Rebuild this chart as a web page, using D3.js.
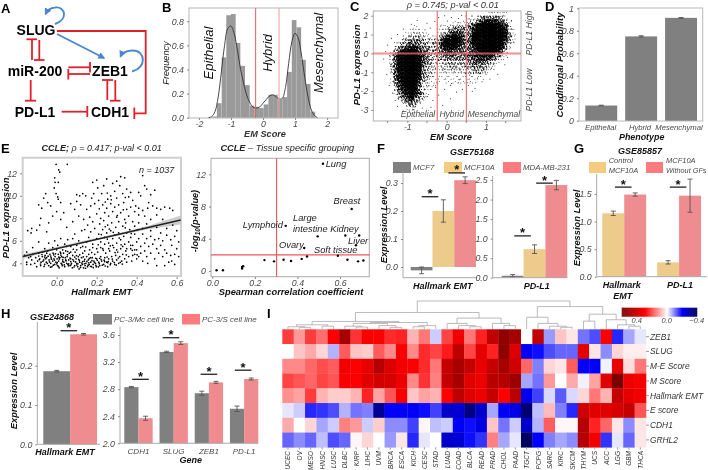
<!DOCTYPE html>
<html><head><meta charset="utf-8">
<script src="https://cdn.jsdelivr.net/npm/d3@7"></script>
<style>
html,body{margin:0;padding:0;background:#fff}
svg{display:block;filter:blur(0.35px)}
text{font-family:"Liberation Sans",Arial,sans-serif}
</style></head><body>
<script>
// ---------- Panel B ----------
const emBinStart=[-1.58,-1.44,-1.29,-1.146,-1.0,-.854,-.708,-.562,-.416,-.27,-.124,.022,.168,.314,.46,.606,.752,.898,1.044,1.19,1.336,1.482];
const emBinFreq=[.01,.12,.5,.85,.86,.62,.43,.27,.1,.09,.08,.11,.19,.19,.15,.17,.38,.81,.75,.48,.28,.05];
const emBinWidth=.146;
const emDensity=[[-1.7,0],[-1.6,.01],[-1.5,.05],[-1.4,.17],[-1.3,.38],[-1.2,.6],[-1.1,.74],[-1,.76],[-.9,.7],[-.8,.56],[-.7,.4],[-.6,.28],[-.5,.18],[-.4,.12],[-.3,.085],[-.2,.08],[-.1,.09],[0,.12],[.1,.15],[.2,.18],[.3,.19],[.4,.175],[.5,.155],[.6,.16],[.7,.25],[.8,.45],[.9,.63],[1,.7],[1.1,.66],[1.2,.52],[1.3,.34],[1.4,.18],[1.5,.07],[1.6,.02],[1.7,0]];
const emThresholds=[-.23,.5];
// ---------- Panel C: density read from the cloud, rows top (y=2.1) to bottom, cols x=-1.7 step .1 ----------
const cDensityRows=[
"000000000000000000000000000011111000",
"000000000000000000000011124444431000",
"000000000000000000011112246777653100",
"000000000100000011122224589999876200",
"000000001110000112344434789999887210",
"000000011221100123566534799999997310",
"000000122332111246787635899999997410",
"000000234443222368998645899999996310",
"000012345543323478987645799999995210",
"000024567764433467876545689999874100",
"000136899965433456655545678888752000",
"000258999976433345554455677776421000",
"000258999985432334444444566654210000",
"000258999985432223333334555432100000",
"000258999985322122332233444321000000",
"000258999984321122222222333210000000",
"000157999984321111111122222100000000",
"000157999974321111111111111000000000",
"000147999963211101011111100000000000",
"000036899952211000100000000000000000",
"000025789942110000000000000000000000",
"000014679763100000000000000000000000",
"000003568642100000000000000000000000",
"000001356431000000000000000000000000",
"000000134310000000000000000000000000",
"000000012200000000000000000000000000",
"000000001000000000000000000000000000"];
const cOutliers=[[-1.43,-.6],[-1.52,-1.1],[-1.46,-1.7],[-1.38,-2.1],[-1.31,-2.5],[-1.25,-2.8],[-1.1,-3.05],[-.95,-3.0],[-.8,-2.7],[-.62,-2.4],[-.5,-2.3],[-.35,-2.5],[-.2,-2.2],[-.1,-2.75],[.1,-2.4],[.25,-2.05],[.4,-1.9],[.55,-1.7],[.72,-1.85],[.9,-1.5],[1.1,-1.35],[1.3,-1.1],[1.48,-.6],[1.55,-.2],[1.62,.3],[1.7,.6],[1.6,1.1],[1.55,1.5],[1.65,1.75],[1.45,2.0],[-.2,1.9],[-.05,2.0],[-.3,1.7],[-.5,1.6],[-.75,1.75],[-.9,1.55],[-1.1,1.3],[-1.25,1.0],[-1.4,.8],[-1.5,.45],[-1.55,.1],[-1.6,-.3],[-.55,1.25],[-.42,1.35],[-.15,1.45],[.02,1.72],[.12,1.9],[.3,1.85],[.38,2.02],[.58,-1.15],[.33,-1.4],[.12,-1.6],[-.05,-1.9],[-.28,-1.8],[.78,-1.3],[1.0,-1.1],[1.2,-.85],[.65,-2.0],[-.4,-2.85],[-.62,-2.9]];
const cThresholds=[-.24,.5];
const stippleCounts=[0,2,3,5,7,9,11,13,16,16];
// ---------- Panel D ----------
const phenotypes=["Epithelial","Hybrid","Mesenchymal"];
const condProb=[.135,.75,.915];
const condErr=[.003,.006,.003];
// ---------- Panel E ----------
const ccleScatter=[
[-.003,12.8],[.053,12.8],[.01,12.3],[.015,12.1],[-.01,11.6],[-.008,11.2],[.008,11.2],[-.012,10.7],[-.003,10.2],[.005,9.9],[.008,9.7],
[-.145,6.9],[-.125,7.1],[-.128,6.7],[-.1,6.95],[-.05,6.8],[-.085,7.4],[-.075,8.9],[-.09,9.2],[-.065,9.8],[-.055,10.2],[-.045,9.4],[-.08,8.0],[-.03,9.1],[-.02,8.2],[.0,8.6],[.02,7.9],[-.04,7.6],[.035,8.5],[.02,9.4],[.07,9.3],[.1,9.5],[.09,8.8],[.05,7.2],[.08,7.7],[.11,8.2],[.135,7.9],[.12,9.2],[.1,10.1],[.15,8.8],[.17,9.1],[.165,8.1],[.155,7.4],[.125,6.9],[.09,6.6],
[.115,10.0],[.13,10.2],[.145,10.0],[.175,9.8],[.185,10.2],[.18,11.2],[.2,11.4],[.25,11.5],[.235,10.9],[.205,10.7],[.225,10.2],[.27,10.0],[.255,9.7],[.29,10.4],[.28,11.1],[.3,11.3],[.32,11.7],[.34,11.6],[.315,10.9],[.35,10.6],[.33,10.2],[.3,9.8],[.36,9.9],[.37,10.3],[.38,9.6],[.41,10.3],[.43,11.8],[.44,10.9],[.45,10.6],[.42,10.0],[.47,10.1],[.49,10.5],[.46,9.4],[.395,9.1],
[.19,9.3],[.21,9.6],[.23,9.2],[.25,8.9],[.27,9.3],[.29,9.0],[.31,9.2],[.335,9.4],[.35,8.8],[.37,9.0],[.39,8.6],[.41,8.9],[.43,8.7],[.455,8.9],[.48,9.1],[.5,8.9],[.52,8.8],[.54,9.0],[.565,8.9],[.58,8.7],[.5,8.3],[.53,7.9],[.47,7.9],[.44,8.2],[.41,8.3],[.38,7.7],[.36,8.2],[.34,7.9],[.32,8.5],[.3,8.1],[.28,8.6],[.26,8.2],[.24,8.5],[.22,8.0],[.2,8.4],[.18,7.7],[.215,7.5],[.235,7.8],[.255,7.4],[.275,7.6],[.295,7.2],[.31,7.7],[.33,7.3],[.345,7.6],[.365,7.0],[.39,7.3],[.41,7.6],[.43,7.1],[.45,7.5],[.47,6.9],[.5,7.2],[.52,6.7],[.55,7.1],[.58,7.4],[.6,6.9],
[.14,7.0],[.17,6.8],[.19,7.1],[.21,6.6],[.23,7.0],[.25,6.7],[.27,6.9],[.29,6.5],[.31,6.7],[.335,6.4],[.35,6.7],[.37,6.3],[.39,6.6],[.41,6.2],[.43,6.6],[.45,6.2],[.47,6.4],[.49,6.1],[.51,6.2],[.53,6.0],[.55,6.5],[.57,6.1],[.59,6.4],[.61,5.9],
[-.15,5.0],[-.12,5.4],[-.09,5.9],[-.06,5.3],[-.04,5.8],[-.02,5.4],[-.01,6.0],[.005,5.6],[.02,6.2],[.03,5.2],[.04,5.7],[.055,6.1],[.07,5.5],[.08,6.2],[.1,5.6],[.11,6.0],[.13,5.5],[.15,5.9],[.16,6.3],[.18,5.7],[.2,6.2],[.22,5.9],[.24,6.3],[.26,5.8],[.28,6.2],[.3,5.8],[.32,6.1],[.34,5.7],[.36,5.9],[.38,5.6],[.4,5.9],[.42,5.5],[.44,5.8],[.46,5.5],[.48,5.7],[.5,5.3],[.52,5.6],[.54,5.2],[.575,5.6],[.6,5.3],[.59,4.8],[.61,4.6],[.57,4.7],[.55,4.9],[.53,4.6],[.51,4.9],[.49,4.4],[.47,4.9],[.45,4.6],[.575,4.2],[.59,3.9],[.54,3.8],[.56,4.1],[.5,3.8],[.44,5.1],[.42,4.9],[.4,5.2],[.38,4.7],
[-.16,4.7],[-.15,4.1],[-.14,4.5],[-.13,3.9],[-.125,4.3],[-.12,4.8],[-.11,4.0],[-.105,4.5],[-.1,3.7],[-.095,4.2],[-.09,4.9],[-.085,4.4],[-.08,3.8],[-.078,4.1],[-.072,4.6],[-.07,5.0],[-.065,4.3],[-.06,3.9],[-.058,4.7],[-.052,4.1],[-.05,4.5],[-.045,5.1],[-.04,3.8],[-.038,4.3],[-.034,4.8],[-.03,4.0],[-.028,4.5],[-.024,3.7],[-.02,4.2],[-.018,4.9],[-.014,4.4],[-.01,3.9],[-.008,4.6],[-.004,4.1],[0,5.2],[.002,4.4],[.004,3.8],[.008,4.8],[.01,4.2],[.012,3.6],[.016,4.5],[.018,5.0],[.022,4.0],[.025,4.6],[.028,3.8],[.03,4.3],[.034,4.9],[.036,4.1],[.04,3.7],[.043,4.5],[.045,5.1],[.05,4.0],[.052,4.6],[.056,3.9],[.06,4.3],[.063,4.9],[.067,3.8],[.07,4.4],[.074,4.0],[.078,3.6],[.08,4.7],[.085,4.2],[.09,3.8],[.092,5.0],[.097,4.4],[.1,4.0],[.105,3.7],[.108,4.6],[.112,3.5],[.115,4.1],[.12,3.8],[.124,4.5],[.128,3.9],[.13,4.9],[.134,3.6],[.138,4.2],[.142,3.8],[.146,4.0],[.15,4.6],[.154,3.7],[.158,4.3],[.162,3.9],[.165,5.2],[.17,4.1],[.174,3.7],[.178,4.5],[.182,3.9],[.186,4.2],[.19,4.8],[.194,4.0],[.198,3.7],[.2,4.4],[.205,5.0],[.21,4.1],[.215,3.8],[.22,4.6],[.225,4.2],[.23,5.3],[.235,3.9],[.24,4.5],[.245,4.9],[.25,4.1],[.255,3.7],[.26,4.4],[.265,5.1],[.27,4.0],[.275,4.6],[.28,4.2],[.285,5.4],[.29,3.9],[.295,4.7],[.3,4.3],[.305,5.0],[.31,4.0],[.315,4.6],[.32,5.3],[.325,4.2],[.33,4.8],[.34,4.4],[.345,5.1],[.35,4.1],[.36,4.6],[.37,5.3],[.375,4.2],[.39,4.8],[.4,4.4],[.41,4.6],[.43,4.2],[.455,4.0],
[-.15,3.9],[-.13,4.6],[-.05,4.9],[.02,4.9],[.05,5.5],[.07,5.0],[.1,5.2],[.12,5.4],[.14,5.1],[.16,4.8],[.18,5.4],[.2,5.3],[.22,5.4],[.24,5.7],[.26,5.3],[.28,5.6],[.3,5.2],[.33,5.5],[.35,5.3],[.37,5.6],[.39,5.2],
[.11,4.35],[.14,4.35],[.17,4.5],[.07,4.15],[.03,4.15],[-.015,4.75],[-.06,4.55],[.01,4.55],[.045,4.3],[.09,4.55],[.13,4.15],[.16,4.05],[.195,4.45],[.215,4.45],[.255,4.05],[.24,4.15],[-.03,4.65],[-.09,4.65],[.06,3.95],[.1,3.85],[.0,3.95],
[-.087,4.33],[-.081,3.94],[-.074,4.78],[-.069,4.18],[-.063,3.72],[-.056,4.41],[-.047,3.99],[-.043,4.63],[-.036,4.12],[-.031,3.66],[-.026,4.37],[-.017,3.83],[-.011,4.29],[-.006,4.84],[.003,4.07],[.009,3.72],[.013,4.39],[.021,4.73],[.026,3.92],[.032,4.52],[.038,3.86],[.047,4.22],[.054,4.76],[.059,3.78],[.066,4.47],[.072,3.87],[.081,4.33],[.087,3.67],[.094,4.12],[.099,4.69],[.106,3.95],[.113,4.24],[.119,3.63],[.126,4.02],[.133,4.58],[.139,3.96],[.144,3.56],[.151,4.17],[.157,3.83],[.163,4.43],[.169,3.74],[.176,4.23],[.183,3.62],[.189,4.08],[.196,3.82],[.203,4.27],[.208,3.69],[.213,3.97],[.222,4.34],[.228,3.84],[.237,4.28],[.243,3.76],[.252,4.56],[.258,4.16],[.268,3.88],[.278,4.38],[.288,4.07],[.298,3.84],[.308,4.47],[.318,4.09],[.328,3.93],
[.055,5.05],[.083,5.25],[.115,4.75],[.145,5.45],[.175,4.95],[.208,5.65],[.233,5.15],[.268,5.55],[.292,4.95],[.322,5.65],[.348,4.75],[.378,5.15],[.402,4.75],[.223,6.55],[.253,6.15],[.283,6.75],[.313,6.25],[.343,7.15],[.373,6.65],[.403,6.95],[.263,7.05],[.243,7.25],[.303,8.25],[.333,8.75],[.273,9.65],[.243,9.45],[.213,8.85],[.253,10.25],[.343,9.85]
];
const ccleRibbon=[[-.17,4.4,4.8],[.0,5.3,5.45],[.1,5.72,5.88],[.3,6.42,6.62],[.45,7.0,7.3],[.62,7.45,8.25]];
const ccleTrend=[[-.17,4.6],[.62,7.85]];
const tissueCorr=[[.02,.1],[.05,.1],[.14,.3],[.14,.5],[.145,.6],[.245,1.35],[.29,1.2],[.335,1.4],[.37,1.25],[.42,1.5],[.445,1.8],[.495,4.3],[.52,13.3],[.59,1.9],[.625,4.4],[.635,1.4],[.655,7.7],[.685,1.2],[.69,4.4],[.71,1.3],[.675,3.2],[.432,2.85],[.345,5.6]];
// ---------- Panel F ----------
const f_cells=["MCF7","MCF10A","MDA-MB-231"];
const f_emt=[-.012,.2,.31];
const f_emtErr=[.012,.04,.012];
const f_pdl1=[.05,.73,2.37];
const f_pdl1Err=[.03,.11,.12];
// ---------- Panel G ----------
const g_groups=["Hallmark EMT","PD-L1"];
const g_conditions=["Control MCF10A","MCF10A Without GFs"];
const g_control=[1.15,.26];
const g_controlErr=[.04,.03];
const g_noGF=[1.49,1.47];
const g_noGFErr=[.03,.3];
// ---------- Panel H ----------
const h_emt=[.186,.28];
const h_emtErr=[.002,.002];
const h_genes=["CDH1","SLUG","ZEB1","PD-L1"];
const h_mc=[2.83,3.35,2.74,2.51];
const h_mcErr=[.01,.01,.03,.04];
const h_s=[2.37,3.48,2.9,2.95];
const h_sErr=[.03,.02,.015,.015];
// ---------- Panel I ----------
const tumours=["UCEC","OV","MESO","HNSC","LUSC","DLBC","KIRP","LIHC","UVM","BRCA","ESCA","KICH","CESC","STAD","LUAD","COAD","BLCA","READ","PRAD","CHOL","PAAD","TGCT","PCPG","SARC","KIRC","SKCM","THYM","UCS","ACC","LGG","GBM","THCA"];
const signatures=["ZEB1","SLUG","M-E Score","M Score","Hallmark EMT","E score","CDH1","GRHL2"];
const corrZEB1=[.23,.12,.23,.17,.3,.5,.24,.31,.31,.25,.26,.09,.16,-.04,.22,.33,.16,.26,.44,.55,.5,0,.44,-.08,.07,.03,-.11,-.14,.3,-.17,-.07,-.02];
const corrSLUG=[0,.07,.1,.05,-.06,.19,.07,.06,.19,.14,.31,.14,.25,.22,.27,.45,.22,.36,.26,.55,.38,-.21,-.19,-.14,-.12,-.12,.36,.03,-.09,.05,.02,.02];
const corrME=[.14,.14,.18,.21,.19,.33,.3,.35,.47,.38,.33,.31,.25,.16,.43,.5,.43,.35,.43,.5,.41,.18,-.1,.05,.03,.19,-.2,-.2,-.01,.35,.04,.16];
const corrM=[.22,.2,.18,.22,.2,.32,.31,.37,.4,.39,.34,.14,.24,.15,.43,.5,.37,.34,.46,.47,.52,-.07,-.11,.12,0,.1,-.01,.11,.37,.6,.34,.32];
const corrHallmark=[.13,.11,.23,.09,.06,.06,.09,.26,.11,.2,.32,.07,.11,.09,.3,.45,.37,.34,.43,.3,.46,-.22,-.15,-.03,-.13,-.03,.05,.16,.09,.43,.36,.33];
const corrE=[-.02,-.04,-.17,-.16,-.14,-.06,-.11,-.1,-.32,-.21,-.21,-.21,-.19,-.15,-.26,-.25,-.34,-.26,-.07,-.21,-.23,-.36,-.05,.08,-.1,-.17,.41,.37,.37,.39,.43,.2];
const corrCDH1=[.1,0,.05,-.07,-.04,.15,.12,-.04,.06,-.09,-.09,-.15,.01,-.05,-.04,-.21,-.19,-.23,.07,-.11,-.04,-.26,-.06,.19,.01,.01,.47,.26,.18,.03,-.09,.03];
const corrGRHL2=[-.12,-.09,-.12,-.05,-.14,-.12,.01,.05,0,-.08,.03,-.17,-.02,0,-.26,-.25,-.19,-.16,.15,-.07,-.02,-.38,-.2,-.1,-.07,-.09,.47,.33,-.16,-.02,-.12,.03];
const corrMatrix=[corrZEB1,corrSLUG,corrME,corrM,corrHallmark,corrE,corrCDH1,corrGRHL2];
const dendroA1=[.27,[.15,[.08,"UCEC",[.06,"OV","MESO"]],[.1,"HNSC","LUSC"]],[.23,[.2,[.1,"DLBC",[.07,"KIRP","LIHC"]],[.12,"UVM",[.06,"BRCA","ESCA"]]],[.12,[.08,"KICH","CESC"],"STAD"]]];
const dendroA2=[.39,[.2,"LUAD",[.12,"COAD",[.08,"BLCA","READ"]]],[.2,"PRAD",[.12,"CHOL","PAAD"]]];
const dendroB1=[.42,"TGCT",[.2,"PCPG",[.1,"SARC",[.06,"KIRC","SKCM"]]]];
const dendroB2=[.53,[.28,"THYM","UCS"],[.33,"ACC",[.15,"LGG",[.1,"GBM","THCA"]]]];
const dendroRoot=[1,[.59,dendroA1,dendroA2],[.8,dendroB1,dendroB2]];

// ---------- helpers ----------
const GRAY="#808080",RED="#ee8c8f",YEL="#eccb8b",REDL="#fb7b7e",YELL="#f4cb80",TICK="#4a4a4a",BOX="#aaaaaa",LINE_RED="#ef5a5f";
const TS=8.8, BS=9.2;
const svg=d3.select("body").append("svg").attr("width",708).attr("height",470).attr("viewBox","0 0 708 470");
function txt(x,y,s,o={}){
  const t=svg.append("text").attr("x",x).attr("y",y).text(s)
    .attr("text-anchor",o.a||"middle").attr("dominant-baseline","central")
    .attr("font-size",o.s||9).attr("fill",o.c||TICK)
    .attr("font-style",o.i===false?"normal":"italic").attr("font-weight",o.b?"bold":"normal");
  if(o.r) t.attr("transform",`rotate(${o.r} ${x} ${y})`);
  return t;
}
function boldLabel(x,y,s,o={}){return txt(x,y,s,Object.assign({b:true,c:"#111",s:BS},o));}
function panel(x,y,s){txt(x,y,s,{i:false,b:true,c:"#000",s:13,a:"start"});}
function axL(x,scale,vals,fmt,o={}){
  const g=svg.append("g").attr("transform",`translate(${x},0)`).call(d3.axisLeft(scale).tickValues(vals).tickSize(o.tick===undefined?2:o.tick).tickFormat(fmt||(d=>d)));
  g.selectAll("path").attr("stroke",o.noDomain?"none":"#aaa");
  g.selectAll("line").attr("stroke","#888");
  g.selectAll("text").attr("font-size",o.s||TS).attr("font-style","italic").attr("fill",TICK).attr("font-family","Liberation Sans");
  return g;
}
function axB(y,scale,vals,fmt,o={}){
  const g=svg.append("g").attr("transform",`translate(0,${y})`).call(d3.axisBottom(scale).tickValues(vals).tickSize(o.tick===undefined?2:o.tick).tickFormat(fmt||(d=>d)));
  g.selectAll("path").attr("stroke",o.noDomain?"none":"#aaa");
  g.selectAll("line").attr("stroke","#888");
  g.selectAll("text").attr("font-size",o.s||TS).attr("font-style","italic").attr("fill",TICK).attr("font-family","Liberation Sans").attr("dy",o.dy||"0.71em");
  return g;
}
function box(x0,x1,y0,y1,w,c){svg.append("rect").attr("x",x0).attr("y",y0).attr("width",x1-x0).attr("height",y1-y0).attr("fill","none").attr("stroke",c||BOX).attr("stroke-width",w||1);}
function bars(xs,ws,vals,errs,y,fill,base){
  vals.forEach((v,i)=>{
    const b=y(base===undefined?0:base),p=y(v);
    svg.append("rect").attr("x",xs[i]).attr("width",ws).attr("y",Math.min(b,p)).attr("height",Math.abs(b-p)).attr("fill",Array.isArray(fill)?fill[i]:fill);
    const cx=xs[i]+ws/2,e=errs[i];
    const g=svg.append("g").attr("stroke","#555").attr("stroke-width",.9);
    g.append("line").attr("x1",cx).attr("x2",cx).attr("y1",y(v-e)).attr("y2",y(v+e));
    g.append("line").attr("x1",cx-2.5).attr("x2",cx+2.5).attr("y1",y(v-e)).attr("y2",y(v-e));
    g.append("line").attr("x1",cx-2.5).attr("x2",cx+2.5).attr("y1",y(v+e)).attr("y2",y(v+e));
  });
}
function sig(cx,py){
  svg.append("line").attr("x1",cx-8.3).attr("x2",cx+8.3).attr("y1",py).attr("y2",py).attr("stroke","#222").attr("stroke-width",1.3);
  txt(cx,py-3,"*",{i:false,b:true,c:"#111",s:13});
}

// ---------- A: network ----------
panel(1,8,"A");
const RD="#e2202a",BL="#4d86d0";
const defs=svg.append("defs");
defs.append("marker").attr("id","ah").attr("viewBox","0 0 10 10").attr("refX",8).attr("refY",5).attr("markerWidth",7).attr("markerHeight",7).attr("orient","auto").attr("markerUnits","userSpaceOnUse")
  .append("path").attr("d","M0 0L10 5L0 10z").attr("fill",BL);
const redPaths=["M57 31H145.7V113.3H134.3","M134.3 107.5V119","M32 39.3V60","M26.5 39.3H37","M39.3 40V60","M34 60H44.5","M68.3 67.3H90","M90 62V72.5","M68.3 74H90","M68.3 69V79.5","M30.7 80V100.7","M25 100.7H36","M61.7 111.7H87.3","M87.3 106V117","M107.3 80V100","M102 80H113","M115.3 80V100.7","M110 100.7H120.5"];
redPaths.forEach(d=>svg.append("path").attr("d",d).attr("fill","none").attr("stroke",RD).attr("stroke-width",1.8));
["M55 24C68 20 66 6 55 7.5C50 8 47 11 45.5 14","M57 34L104 58","M132 71.5C147 68 146 50 132 50.5C126 51 122 53 120.5 56.5"].forEach(d=>
  svg.append("path").attr("d",d).attr("fill","none").attr("stroke",BL).attr("stroke-width",1.9).attr("marker-end","url(#ah)"));
[[36,30,"SLUG"],[35,71,"miR-200"],[110,71,"ZEB1"],[35,112,"PD-L1"],[110,112,"CDH1"]].forEach(a=>txt(a[0],a[1],a[2],{i:false,b:true,c:"#000",s:14}));

// ---------- B ----------
panel(162,7,"B");
{
 const x=d3.scaleLinear().domain([-2.31,2.34]).range([189,338]);
 const y=d3.scaleLinear().domain([0,.91]).range([117.7,8]);
 box(189,338,8,118,1,"#b5b5b5");
 svg.append("g").selectAll("rect").data(emBinStart).join("rect").attr("x",d=>x(d)).attr("width",x(emBinWidth)-x(0)).attr("y",(d,i)=>y(emBinFreq[i])).attr("height",(d,i)=>y(0)-y(emBinFreq[i])).attr("fill","#9a9a9a");
 svg.append("path").attr("d",d3.line().x(d=>x(d[0])).y(d=>y(d[1])).curve(d3.curveCatmullRom)(emDensity)).attr("fill","none").attr("stroke","#333").attr("stroke-width",.9);
 emThresholds.forEach((t,i)=>svg.append("line").attr("x1",x(t)).attr("x2",x(t)).attr("y1",8).attr("y2",118).attr("stroke",i?"#f59a9a":LINE_RED).attr("stroke-width",1));
 axL(189,y,[0,.2,.4,.6,.8],d3.format(".1f"),{noDomain:true});
 axB(118,x,[-2,-1,0,1,2],d=>d,{noDomain:true,dy:"0.5em"});
 txt(165.5,63,"Frequency",{c:"#222",s:9.2,r:-90});
 boldLabel(265,134,"EM Score",{c:"#333"});
 txt(208,53,"Epithelial",{c:"#111",s:13,r:-90});
 txt(267,53,"Hybrid",{c:"#111",s:13,r:-90});
 txt(318,53,"Mesenchymal",{c:"#111",s:13,r:-90});
}
// ---------- C ----------
panel(350,6,"C");
{
 const sx=d3.scaleLinear().domain([-1,1]).range([407.3,486]);
 const sy=d3.scaleLinear().domain([-3,2]).range([110,15.7]);
 const stipX=[.12,.62,.37,.87,.25,.75,.05,.55,.3,.8,.18,.68,.43,.93,.1,.6];
 const stipY=[.1,.6,.35,.85,.6,.15,.85,.4,.1,.55,.35,.8,.6,.2,.45,.9];
 const g=svg.append("g").attr("fill","#000");
 cDensityRows.forEach((row,j)=>{
  const cy=2.2-.2*j;
  row.split("").forEach((ch,i)=>{
   const v=+ch; if(!v) return;
   const cx=-1.75+.1*i;
   const n=stippleCounts[v];
   for(let k=0;k<n;k++){
    const q=(k*5+i*7+j*3)%16;
    g.append("circle").attr("cx",sx(cx+stipX[q]*.1)).attr("cy",sy(cy-stipY[(q+i)%16]*.2)).attr("r",.42+.06*v);
   }
  });
 });
 g.selectAll("circle.o").data(cOutliers).join("circle").attr("class","o").attr("cx",d=>sx(d[0])).attr("cy",d=>sy(d[1])).attr("r",.5);
 box(373.3,521,11,121,1,"#b0b0b0");
 cThresholds.forEach(t=>svg.append("line").attr("x1",sx(t)).attr("x2",sx(t)).attr("y1",11).attr("y2",121).attr("stroke","#f0555c").attr("stroke-width",1));
 svg.append("line").attr("x1",373.3).attr("x2",521).attr("y1",sy(0)).attr("y2",sy(0)).attr("stroke","#f36a6f").attr("stroke-opacity",.75).attr("stroke-width",2);
 axL(373.3,sy,[2,1,0,-1,-2,-3],d=>d,{noDomain:true});
 axB(121,sx,[-1,0,1],d=>d,{noDomain:true,dy:"0.45em"});
 svg.append("g").selectAll("line").data([-1.5,-.5,.5,1.5]).join("line").attr("x1",d=>sx(d)).attr("x2",d=>sx(d)).attr("y1",121).attr("y2",123).attr("stroke","#888");
 txt(452.7,5,"ρ = 0.745; p-val < 0.01",{s:9.2,c:"#333"});
 boldLabel(356.5,65,"PD-L1 expression",{r:-90,s:9.6});
 boldLabel(451,137,"EM Score");
 txt(529,33,"PD-L1 High",{r:-90,s:8.7});
 txt(529,90,"PD-L1 Low",{r:-90,s:8.7});
 txt(418,114,"Epithelial",{s:8.5});txt(451.7,114,"Hybrid",{s:8.5});txt(494,114,"Mesenchymal",{s:8.5});
}
// ---------- D ----------
panel(545,6,"D");
{
 const y=d3.scaleLinear().domain([0,1]).range([120.7,8.3]);
 const x=d3.scaleBand().domain(phenotypes).range([585.3,697]).paddingInner(.2);
 box(579,702.7,8,121,1,"#bbb");
 bars(phenotypes.map(p=>x(p)),x.bandwidth(),condProb,condErr,y,GRAY);
 axL(579,y,[0,.2,.4,.6,.8,1],d=>d,{noDomain:true,tick:2});
 const lx=[600.7,640,679];
 phenotypes.forEach((p,i)=>txt(lx[i],127.7,p,{s:7.7}));
 boldLabel(559,65,"Conditional Probability",{r:-90,s:9.6});
 boldLabel(641.7,137,"Phenotype",{s:8.9});
}
// ---------- E ----------
panel(1,148,"E");
{
 const x=d3.scaleLinear().domain([0,.6]).range([56.7,176.7]);
 const y=d3.scaleLinear().domain([4,12]).range([263.3,173.3]);
 box(22.7,181,157.7,276,2,"#cfcfcf");
 svg.append("path").attr("d",d3.area().x(d=>x(d[0])).y0(d=>y(d[1])).y1(d=>y(d[2]))(ccleRibbon)).attr("fill","#bdbdbd").attr("opacity",.75);
 svg.append("g").selectAll("circle").data(ccleScatter).join("circle").attr("cx",d=>x(d[0])).attr("cy",d=>y(d[1])).attr("r",.85).attr("fill","#000");
 svg.append("line").attr("x1",x(ccleTrend[0][0])).attr("y1",y(ccleTrend[0][1])).attr("x2",x(ccleTrend[1][0])).attr("y2",y(ccleTrend[1][1])).attr("stroke","#222").attr("stroke-width",1.4);
 axL(22,y,[4,6,8,10,12],d=>d,{noDomain:true});
 axB(277,x,[0,.2,.4,.6],d3.format(".1f"),{noDomain:true,dy:"0.4em"});
 const t=txt(101.7,148,"",{s:9,c:"#222"});
 t.append("tspan").attr("font-weight","bold").text("CCLE; ");
 t.append("tspan").text("ρ = 0.417; p-val < 0.01");
 txt(156.7,170,"n = 1037",{s:9,c:"#222"});
 boldLabel(5,218,"PD-L1 expression",{r:-90,s:9.6});
 boldLabel(101.7,292,"Hallmark EMT");
 // right
 const x2=d3.scaleLinear().domain([0,.6]).range([212.3,340]);
 const y2=d3.scaleLinear().domain([0,12]).range([271,174.3]);
 box(211,369.3,158.3,276.7,1,"#aaa");
 svg.append("line").attr("x1",x2(.302)).attr("x2",x2(.302)).attr("y1",158.3).attr("y2",276.7).attr("stroke","#f0555c").attr("stroke-width",1.1);
 svg.append("line").attr("x1",211).attr("x2",369.3).attr("y1",y2(2)).attr("y2",y2(2)).attr("stroke","#f0555c").attr("stroke-width",1.1);
 svg.append("g").selectAll("circle").data(tissueCorr).join("circle").attr("cx",d=>x2(d[0])).attr("cy",d=>y2(d[1])).attr("r",1.2).attr("fill","#000");
 axL(211,y2,[0,4,8,12],d=>d,{noDomain:true});
 axB(277,x2,[0,.2,.4,.6],d3.format(".1f"),{noDomain:true,dy:"0.4em"});
 const t2=txt(287.3,148,"",{s:9.2,c:"#222"});
 t2.append("tspan").attr("font-weight","bold").text("CCLE");
 t2.append("tspan").text(" – Tissue specific grouping");
 const L={s:9.3,a:"start",c:"#222"};
 txt(325.7,164,"Lung",L);txt(333.5,200.7,"Breast",L);txt(293,217.7,"Large",L);txt(293,229,"intestine Kidney",L);txt(242.7,225,"Lymphoid",L);txt(348,241,"Liver",L);txt(279,245,"Ovary",L);txt(314,250,"Soft tissue",L);
 const yl=boldLabel(194.7,221,"",{r:-90,s:9.2});
 yl.append("tspan").text("-log");yl.append("tspan").attr("font-size",6.5).attr("dy",2).text("10");yl.append("tspan").attr("dy",-2).text("(p-value)");
 boldLabel(291,292,"Spearman correlation coefficient",{s:9.3});
}
// ---------- F ----------
panel(377,148,"F");
{
 boldLabel(472,152,"GSE75168",{s:9});
 const sw=[[393,GRAY,413],[444,YELL,464],[503,REDL,523]];
 f_cells.forEach((c,i)=>{
  svg.append("rect").attr("x",sw[i][0]).attr("y",162).attr("width",18).attr("height",11).attr("fill",sw[i][1]);
  txt(sw[i][2],167.5,c,{a:"start",s:7.8});
 });
 const y=d3.scaleLinear().domain([0,.3]).range([267,183]);
 const x=d3.scaleBand().domain(f_cells).range([410.7,476]);
 bars(f_cells.map(c=>x(c)),x.bandwidth(),f_emt,f_emtErr,y,[GRAY,YEL,RED]);
 axL(403,y,[0,.1,.2,.3],d3.format(".1f")).select("path").attr("d","M-0 172V277.7");
 svg.append("line").attr("x1",403).attr("x2",476).attr("y1",277.7).attr("y2",277.7).attr("stroke","#aaa");
 sig(x("MCF10A")-2.5,y(.251));sig(x("MDA-MB-231")+2.5,y(.336));
 const y2=d3.scaleLinear().domain([0,2.5]).range([277.7,180]);
 const x2=d3.scaleBand().domain(f_cells).range([501.7,567.3]);
 bars(f_cells.map(c=>x2(c)),x2.bandwidth(),f_pdl1,f_pdl1Err,y2,[GRAY,YEL,RED]);
 axL(492.7,y2,[0,.5,1,1.5,2,2.5],d3.format(".1f")).select("path").attr("d","M-0 176V277.7");
 svg.append("line").attr("x1",492.7).attr("x2",567.3).attr("y1",277.7).attr("y2",277.7).attr("stroke","#aaa");
 sig(x2("MCF10A")-1,y2(1.07));sig(x2("MDA-MB-231")-1,y2(2.42));
 boldLabel(442.7,285.7,"Hallmark EMT",{s:9});boldLabel(536.7,285.7,"PD-L1",{s:9});
 boldLabel(384,225,"Expression Level",{r:-90,s:9.3});
}
// ---------- G ----------
panel(574,148,"G");
{
 boldLabel(640,151,"GSE85857",{s:9});
 svg.append("rect").attr("x",589).attr("y",162).attr("width",17).attr("height",11).attr("fill",YELL);
 svg.append("rect").attr("x",646).attr("y",162).attr("width",17).attr("height",11).attr("fill",REDL);
 txt(608.7,160.5,"Control",{a:"start",s:7.5});txt(608.7,170.5,"MCF10A",{a:"start",s:7.5});
 txt(666,160.5,"MCF10A",{a:"start",s:7.5});txt(666,170.5,"Without GFs",{a:"start",s:7.3});
 const y=d3.scaleLinear().domain([0,1.5]).range([276.7,194]);
 const x=d3.scaleBand().domain(g_groups).range([602.3,701]).paddingInner(.2);
 const w=x.bandwidth()/2;
 bars(g_groups.map(g=>x(g)),w,g_control,g_controlErr,y,YEL);
 bars(g_groups.map(g=>x(g)+w),w,g_noGF,g_noGFErr,y,RED);
 axL(596.7,y,[0,.5,1,1.5],d3.format(".1f")).select("path").attr("d","M-0 174V276.7");
 svg.append("line").attr("x1",596.7).attr("x2",707).attr("y1",276.7).attr("y2",276.7).attr("stroke","#aaa");
 g_groups.forEach(g=>sig(x(g)+w-1,y(1.625)));
 boldLabel(621.7,285,"Hallmark",{s:9});boldLabel(622.7,296,"EMT",{s:9});boldLabel(680,285,"PD-L1",{s:9});
 boldLabel(577,228,"Expression Level",{r:-90,s:9.3});
}
// ---------- H ----------
panel(1,313,"H");
{
 boldLabel(52,317,"GSE24868",{s:9});
 svg.append("rect").attr("x",93).attr("y",314).attr("width",19).attr("height",10.5).attr("fill",GRAY);
 svg.append("rect").attr("x",182).attr("y",314).attr("width",18).attr("height",10.5).attr("fill",REDL);
 txt(114,319,"PC-3/Mc cell line",{a:"start",s:8});txt(202,319,"PC-3/S cell line",{a:"start",s:8});
 const y=d3.scaleLinear().domain([0,.2]).range([444.3,365.7]);
 const x=d3.scaleBand().domain(["Mc","S"]).range([43.3,97]);
 bars([x("Mc"),x("S")],x.bandwidth(),h_emt,h_emtErr,y,[GRAY,RED]);
 axL(37.3,y,[0,.1,.2],d3.format(".1f")).select("path").attr("d","M-0 322V444.3");
 svg.append("line").attr("x1",37.3).attr("x2",100).attr("y1",444.3).attr("y2",444.3).attr("stroke","#aaa");
 sig(x("S")-1.3,y(.289));
 boldLabel(65,451.7,"Hallmark EMT",{s:9});
 boldLabel(14,391,"Expression Level",{r:-90,s:9.3});
 const y2=d3.scaleLinear().domain([2,3.6]).range([443.3,335]);
 const x2=d3.scaleBand().domain(h_genes).range([124.3,258.3]).paddingInner(.195);
 const w=x2.bandwidth()/2;
 bars(h_genes.map(g=>x2(g)),w,h_mc,h_mcErr,y2,GRAY,2);
 bars(h_genes.map(g=>x2(g)+w),w,h_s,h_sErr,y2,RED,2);
 axL(120,y2,[2,2.4,2.8,3.2,3.6],d3.format(".1f")).select("path").attr("d","M-0 326.7V443.3");
 svg.append("line").attr("x1",120).attr("x2",258.3).attr("y1",443.3).attr("y2",443.3).attr("stroke","#aaa");
 const sy=[2.945,3.56,3.02,3.08],dx=[2,-2.7,0,-1];
 h_genes.forEach((g,i)=>{sig(x2(g)+w+dx[i],y2(sy[i]));txt(x2(g)+w,451,g,{s:8});});
 boldLabel(190.7,460,"Gene",{s:9});
}
// ---------- I ----------
panel(267,313,"I");
{
 const color=d3.scaleLinear().domain([-.4,-.2,0,.3,.6]).range(["#00004d","#0000ff","#ffffff","#ff0000","#7a0000"]);
 const x=d3.scaleBand().domain(tumours).range([282.3,646]);
 const y=d3.scaleBand().domain(signatures).range([329.3,447.3]);
 const g=svg.append("g");
 corrMatrix.forEach((row,j)=>row.forEach((v,i)=>{
  g.append("rect").attr("x",x(tumours[i])).attr("y",y(signatures[j])).attr("width",x.bandwidth()+.3).attr("height",y.bandwidth()+.3).attr("fill",color(v));
 }));
 signatures.forEach(s=>{
  const py=y(s)+y.bandwidth()/2;
  svg.append("line").attr("x1",646).attr("x2",649).attr("y1",py).attr("y2",py).attr("stroke","#999");
  txt(650,py,s,{a:"start",s:8.4,c:"#333"});
 });
 tumours.forEach(t=>{
  const px=x(t)+x.bandwidth()/2;
  svg.append("line").attr("x1",px).attr("x2",px).attr("y1",447.3).attr("y2",449.5).attr("stroke","#999");
  txt(px,451,t,{a:"end",s:6.5,r:-90,c:"#333"});
 });
 const h=d3.scaleLinear().domain([0,1]).range([329,301]);
 const dg=svg.append("g").attr("fill","none").attr("stroke","#a8a8a8").attr("stroke-width",.8);
 function walk(n){
  if(typeof n==="string") return {x:x(n)+x.bandwidth()/2,h:0};
  const l=walk(n[1]),r=walk(n[2]);
  dg.append("path").attr("d",`M${l.x} ${h(l.h)}V${h(n[0])}H${r.x}V${h(r.h)}`);
  return {x:(l.x+r.x)/2,h:n[0]};
 }
 walk(dendroRoot);
 const cb=d3.scaleLinear().domain([.6,-.4]).range([621.7,696.7]);
 svg.append("g").selectAll("rect").data(d3.range(.6,-.4,-.0134)).join("rect").attr("x",d=>cb(d)).attr("y",307.7).attr("width",1.2).attr("height",9).attr("fill",d=>color(d));
 [.4,0,-.4].forEach(v=>txt(cb(v),320.5,d3.format(".1f")(v),{s:7.5}));
}
</script></body></html>
